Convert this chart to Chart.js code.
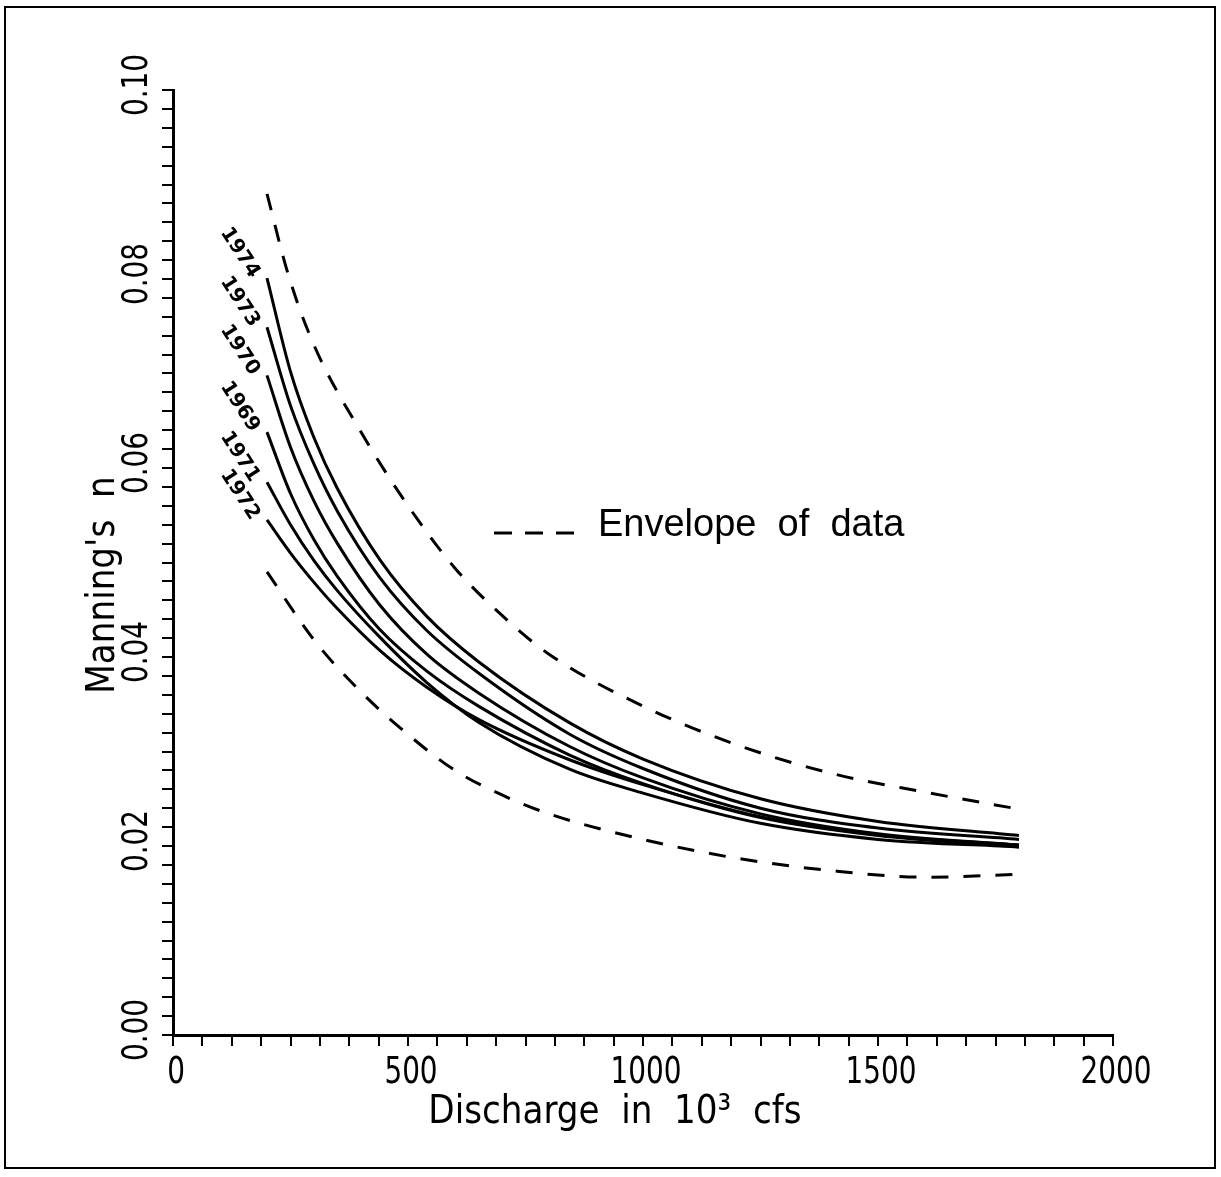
<!DOCTYPE html>
<html>
<head>
<meta charset="utf-8">
<script src="https://cdn.jsdelivr.net/npm/chart.js@4.4.1/dist/chart.umd.min.js"></script>
<style>
  html, body { margin: 0; padding: 0; background: #fff; }
  #wrap { width: 1221px; height: 1177px; }
</style>
</head>
<body>
<div id="wrap"><canvas id="manningChart" width="1221" height="1177"></canvas></div>
<script>
// discharge (10^3 cfs) where the yearly curves were read
const discharge = [200, 250, 300, 350, 440, 540, 650, 845, 1000, 1250, 1500, 1800];

// Manning's n per year
const n1974 = [0.0801, 0.0702, 0.0632, 0.0578, 0.0503, 0.0443, 0.0395, 0.0330, 0.0292, 0.0250, 0.0226, 0.0211];
const n1973 = [0.0749, 0.0666, 0.0604, 0.0554, 0.0484, 0.0428, 0.0383, 0.0318, 0.0282, 0.0240, 0.0219, 0.0207];
const n1970 = [0.0698, 0.0622, 0.0565, 0.0520, 0.0455, 0.0403, 0.0362, 0.0305, 0.0272, 0.0234, 0.0213, 0.0201];
const n1969 = [0.0638, 0.0573, 0.0524, 0.0485, 0.0429, 0.0385, 0.0348, 0.0296, 0.0266, 0.0230, 0.0211, 0.0199];
const n1971 = [0.0585, 0.0540, 0.0502, 0.0470, 0.0421, 0.0373, 0.0331, 0.0281, 0.0256, 0.0224, 0.0207, 0.0199];
const n1972 = [0.0545, 0.0510, 0.0479, 0.0451, 0.0407, 0.0368, 0.0334, 0.0291, 0.0265, 0.0231, 0.0212, 0.0201];

const yearLabels = ["1974", "1973", "1970", "1969", "1971", "1972"];
const yearSeries = [n1974, n1973, n1970, n1969, n1971, n1972];

// envelope of data (dashed)
const upperQ = [200, 245, 300, 400, 500, 600, 700, 800, 1000, 1200, 1400, 1600, 1800];
const upperN = [0.0890, 0.0805, 0.0730, 0.0638, 0.0560, 0.0494, 0.0444, 0.0403, 0.0348, 0.0307, 0.0277, 0.0257, 0.0239];
const lowerQ = [200, 300, 400, 500, 600, 700, 800, 1000, 1200, 1400, 1600, 1800];
const lowerN = [0.0490, 0.0418, 0.0363, 0.0318, 0.0280, 0.0254, 0.0234, 0.0207, 0.0187, 0.0174, 0.0167, 0.0170];

// axis tick labels
const xLabelTicks = [0, 500, 1000, 1500, 2000];
const yLabelTicks = [0.00, 0.02, 0.04, 0.06, 0.08, 0.10];

const COND = "'DejaVu Sans Condensed', 'DejaVu Sans', sans-serif";
const PLAIN = "'Liberation Sans', Arial, sans-serif";

function toPoints(xs, ys) {
  return xs.map(function (x, i) { return { x: x, y: ys[i] }; });
}

const datasets = yearSeries.map(function (series, i) {
  return {
    label: yearLabels[i],
    data: toPoints(discharge, series),
    borderColor: "#000",
    borderWidth: 3,
    pointRadius: 0,
    cubicInterpolationMode: "monotone",
    fill: false,
  };
});

datasets.push({
  label: "Envelope upper",
  data: toPoints(upperQ, upperN),
  borderColor: "#000",
  borderWidth: 3,
  borderDash: [17, 15],
  pointRadius: 0,
  cubicInterpolationMode: "monotone",
  fill: false,
});

datasets.push({
  label: "Envelope lower",
  data: toPoints(lowerQ, lowerN),
  borderColor: "#000",
  borderWidth: 3,
  borderDash: [17, 15],
  pointRadius: 0,
  cubicInterpolationMode: "monotone",
  fill: false,
});

/* ------------------------------- */
/* TEXT, FRAME AND LEGEND */
/* ------------------------------- */

function tallText(ctx, text, x, y, rotation, stretch) {
  ctx.save();
  ctx.translate(x, y);
  ctx.rotate(rotation);
  ctx.scale(1, stretch);
  ctx.fillText(text, 0, 0);
  ctx.restore();
}

const decorPlugin = {
  id: "decor",
  beforeDraw(chart) {
    const ctx = chart.ctx;
    ctx.save();
    ctx.fillStyle = "#fff";
    ctx.fillRect(0, 0, chart.width, chart.height);
    ctx.strokeStyle = "#000";
    ctx.lineWidth = 2;
    ctx.strokeRect(5, 7, 1210, 1161);
    ctx.restore();
  },
  afterDraw(chart) {
    const ctx = chart.ctx;
    const xs = chart.scales.x;
    const ys = chart.scales.y;
    ctx.save();
    ctx.fillStyle = "#000";
    ctx.textAlign = "center";
    ctx.textBaseline = "alphabetic";

    // tick labels (tall, narrow digits); baseline faces the axis
    ctx.font = "31px " + COND;
    yLabelTicks.forEach(function (v) {
      tallText(ctx, v.toFixed(2), 147, ys.getPixelForValue(v) - 5, -Math.PI / 2, 1.15);
    });
    xLabelTicks.forEach(function (v) {
      tallText(ctx, String(v), xs.getPixelForValue(v) + 3, 1083, 0, 1.2);
    });

    // axis titles
    ctx.font = "38px " + COND;
    tallText(ctx, "Manning's  n", 114, 585, -Math.PI / 2, 1.05);
    tallText(ctx, "Discharge  in  10\u00B3  cfs", 615, 1123, 0, 1.05);

    // year labels at the start of each curve
    ctx.font = "bold 20px 'DejaVu Sans', sans-serif";
    ctx.textAlign = "right";
    ctx.textBaseline = "middle";
    yearLabels.forEach(function (lab, i) {
      const pt = chart.getDatasetMeta(i).data[0];
      ctx.save();
      ctx.translate(pt.x - 12, pt.y - 2);
      ctx.rotate(57 * Math.PI / 180);
      ctx.fillText(lab, 0, 0);
      ctx.restore();
    });

    // legend: dashed sample and text
    const ly = 533;
    ctx.strokeStyle = "#000";
    ctx.lineWidth = 3;
    ctx.setLineDash([18, 13]);
    ctx.beginPath();
    ctx.moveTo(494, ly);
    ctx.lineTo(576, ly);
    ctx.stroke();
    ctx.setLineDash([]);
    ctx.font = "38px " + PLAIN;
    ctx.textAlign = "left";
    ctx.textBaseline = "alphabetic";
    ctx.fillText("Envelope  of  data", 598, 536);

    ctx.restore();
  },
};

new Chart(document.getElementById("manningChart"), {
  type: "line",
  data: { datasets: datasets },
  plugins: [decorPlugin],
  options: {
    responsive: false,
    animation: false,
    devicePixelRatio: 1,
    layout: { padding: { left: 0, top: 90, right: 108, bottom: 0 } },
    plugins: {
      legend: { display: false },
      tooltip: { enabled: false },
    },
    scales: {
      x: {
        type: "linear",
        min: 0,
        max: 2000,
        afterFit(scale) { scale.height = 142; },
        border: { display: true, color: "#000", width: 3 },
        grid: { drawOnChartArea: false, drawTicks: true, tickLength: 11, color: "#000", lineWidth: 2 },
        ticks: {
          stepSize: 62.5,
          autoSkip: false,
          maxTicksLimit: 100,
          display: false,
        },
      },
      y: {
        type: "linear",
        min: 0,
        max: 0.1,
        afterFit(scale) { scale.width = 173; },
        border: { display: true, color: "#000", width: 3 },
        grid: { drawOnChartArea: false, drawTicks: true, tickLength: 11, color: "#000", lineWidth: 2 },
        ticks: {
          stepSize: 0.002,
          autoSkip: false,
          maxTicksLimit: 100,
          display: false,
        },
      },
    },
  },
});
</script>
</body>
</html>
